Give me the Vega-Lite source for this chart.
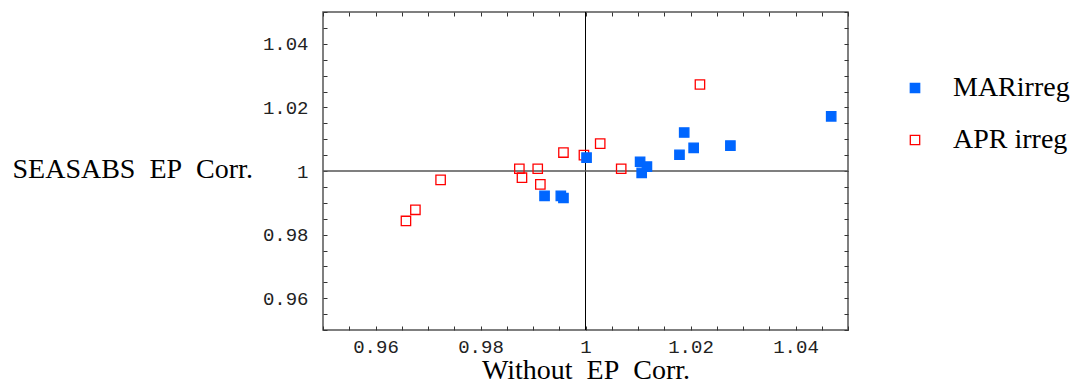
{
  "$schema": "https://vega.github.io/schema/vega-lite/v6.json",
  "width": 525,
  "height": 318,
  "autosize": "none",
  "padding": {"left": 323, "top": 12, "right": 231, "bottom": 53},
  "background": "white",
  "config": {
    "view": {"stroke": "#555555", "strokeWidth": 1.5},
    "axis": {"grid": false, "domain": false, "tickColor": "#333333", "tickSize": -4, "tickWidth": 1,
             "labelFont": "Liberation Mono", "labelFontSize": 19, "labelColor": "#222222", "labelOverlap": false, "labelFlush": false,
             "titleFont": "Liberation Serif", "titleFontSize": 28, "titleFontWeight": "normal", "titleColor": "#000000"}
  },
  "datasets": {
    "pts": [
      {"series": "APR irreg", "x": 1.0218, "y": 1.0272},
      {"series": "APR irreg", "x": 1.0028, "y": 1.0086},
      {"series": "APR irreg", "x": 0.9958, "y": 1.0058},
      {"series": "APR irreg", "x": 0.9997, "y": 1.0050},
      {"series": "APR irreg", "x": 0.9874, "y": 1.0007},
      {"series": "APR irreg", "x": 0.9909, "y": 1.0007},
      {"series": "APR irreg", "x": 1.0068, "y": 1.0007},
      {"series": "APR irreg", "x": 0.9879, "y": 0.9979},
      {"series": "APR irreg", "x": 0.9914, "y": 0.9958},
      {"series": "APR irreg", "x": 0.9724, "y": 0.9972},
      {"series": "APR irreg", "x": 0.9676, "y": 0.9878},
      {"series": "APR irreg", "x": 0.9658, "y": 0.9843},
      {"series": "MARirreg", "x": 1.0468, "y": 1.0172},
      {"series": "MARirreg", "x": 1.0188, "y": 1.0121},
      {"series": "MARirreg", "x": 1.0206, "y": 1.0073},
      {"series": "MARirreg", "x": 1.0276, "y": 1.0080},
      {"series": "MARirreg", "x": 1.0179, "y": 1.0051},
      {"series": "MARirreg", "x": 1.0104, "y": 1.0029},
      {"series": "MARirreg", "x": 1.0117, "y": 1.0014},
      {"series": "MARirreg", "x": 1.0107, "y": 0.9994},
      {"series": "MARirreg", "x": 1.0002, "y": 1.0042},
      {"series": "MARirreg", "x": 0.9922, "y": 0.9922},
      {"series": "MARirreg", "x": 0.9953, "y": 0.9922},
      {"series": "MARirreg", "x": 0.9958, "y": 0.9915}
    ],
    "refx": [{"v": 1}],
    "refy": [{"v": 1}]
  },
  "resolve": {"axis": {"x": "independent", "y": "independent"}},
  "layer": [
    {
      "data": {"name": "refx"},
      "mark": {"type": "rule", "color": "#000000", "strokeWidth": 1},
      "encoding": {
        "x": {"field": "v", "type": "quantitative",
              "scale": {"domain": [0.95, 1.05], "nice": false, "zero": false},
              "axis": {"orient": "bottom", "title": "Without\u00a0 EP\u00a0 Corr.",
                       "values": [0.95,0.955,0.96,0.965,0.97,0.975,0.98,0.985,0.99,0.995,1,1.005,1.01,1.015,1.02,1.025,1.03,1.035,1.04,1.045,1.05],
                       "labelExpr": "abs(datum.value*50 - round(datum.value*50)) < 0.01 ? format(datum.value, '.2~f') : ''",
                       "labelPadding": 11, "labelBaseline": "top",
                       "titleX": 262.5, "titleY": 48, "titleBaseline": "alphabetic", "titleAlign": "center"}}
      }
    },
    {
      "data": {"name": "refy"},
      "mark": {"type": "rule", "color": "#555555", "strokeWidth": 1.6},
      "encoding": {
        "y": {"field": "v", "type": "quantitative",
              "scale": {"domain": [0.95, 1.05], "nice": false, "zero": false},
              "axis": {"orient": "left", "title": "SEASABS\u00a0 EP\u00a0 Corr.",
                       "values": [0.95,0.955,0.96,0.965,0.97,0.975,0.98,0.985,0.99,0.995,1,1.005,1.01,1.015,1.02,1.025,1.03,1.035,1.04,1.045,1.05],
                       "labelExpr": "abs(datum.value*50 - round(datum.value*50)) < 0.01 ? format(datum.value, '.2~f') : ''",
                       "labelPadding": 19,
                       "titleAngle": 0, "titleAlign": "left", "titleX": -311, "titleY": 165, "titleBaseline": "alphabetic"}}
      }
    },
    {
      "data": {"name": "pts"},
      "mark": {"type": "point", "shape": "square", "size": 88, "strokeWidth": 1.3, "opacity": 1},
      "encoding": {
        "x": {"field": "x", "type": "quantitative",
              "scale": {"domain": [0.95, 1.05], "nice": false, "zero": false},
              "axis": {"orient": "top", "title": null, "labels": false,
                       "values": [0.95,0.955,0.96,0.965,0.97,0.975,0.98,0.985,0.99,0.995,1,1.005,1.01,1.015,1.02,1.025,1.03,1.035,1.04,1.045,1.05]}},
        "y": {"field": "y", "type": "quantitative",
              "scale": {"domain": [0.95, 1.05], "nice": false, "zero": false},
              "axis": {"orient": "right", "title": null, "labels": false,
                       "values": [0.95,0.955,0.96,0.965,0.97,0.975,0.98,0.985,0.99,0.995,1,1.005,1.01,1.015,1.02,1.025,1.03,1.035,1.04,1.045,1.05]}},
        "fill": {"field": "series", "type": "nominal",
                 "scale": {"domain": ["MARirreg", "APR irreg"], "range": ["#0066ff", "transparent"]},
                 "legend": {"title": null, "orient": "none", "legendX": 578, "legendY": 62, "padding": 0,
                            "symbolType": "square", "symbolSize": 88, "symbolStrokeWidth": 1.3,
                            "labelFont": "Liberation Serif", "labelFontSize": 28, "labelColor": "#000000", "labelLimit": 200,
                            "labelOffset": 24, "rowPadding": 24, "labelBaseline": "middle"}},
        "stroke": {"field": "series", "type": "nominal",
                   "scale": {"domain": ["MARirreg", "APR irreg"], "range": ["#0066ff", "#ff0000"]},
                   "legend": {"title": null, "orient": "none", "legendX": 578, "legendY": 62, "padding": 0,
                              "symbolType": "square", "symbolSize": 88, "symbolStrokeWidth": 1.3,
                              "labelFont": "Liberation Serif", "labelFontSize": 28, "labelColor": "#000000", "labelLimit": 200,
                              "labelOffset": 24, "rowPadding": 24, "labelBaseline": "middle"}}
      }
    }
  ]
}
